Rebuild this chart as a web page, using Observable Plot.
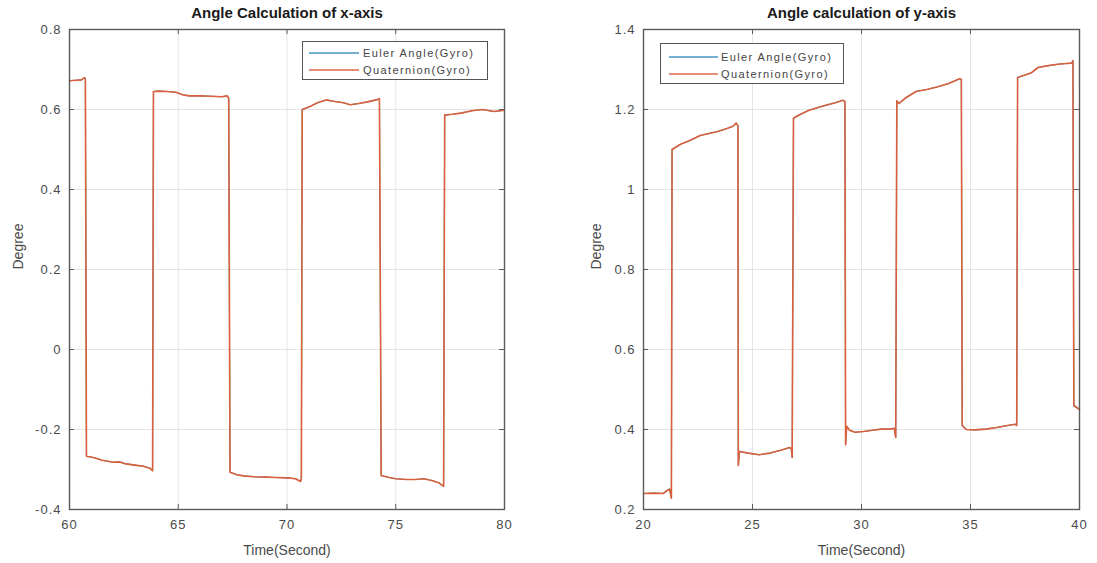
<!DOCTYPE html>
<html><head><meta charset="utf-8">
<script src="https://cdn.jsdelivr.net/npm/d3@7"></script>
<script src="https://cdn.jsdelivr.net/npm/@observablehq/plot@0.6"></script>
<style>
body{margin:0;background:#fff;}
#wrap{position:relative;width:1097px;height:563px;overflow:hidden;font-family:"Liberation Sans",Arial,sans-serif;}
.panel{position:absolute;top:0;}
.legend{position:absolute;border:1.3px solid #555;background:#fff;box-sizing:border-box;}
.legend .ln{position:absolute;height:2px;}
.legend .tx{position:absolute;font-size:11px;letter-spacing:1.4px;color:#444;white-space:nowrap;line-height:12px;}
g[aria-label="x-axis tick label"] text, g[aria-label="y-axis tick label"] text{letter-spacing:1px;}
g[aria-label="title"] text{letter-spacing:1.3px;}
g[aria-label="axis title"] text{letter-spacing:1.5px;}
</style>
</head><body>
<div id="wrap"></div>
<script>
// ---- Left chart: Angle Calculation of x-axis ----
const xAxisTime = [60.00,60.30,60.55,60.68,60.73,60.78,61.10,61.50,62.00,62.30,62.60,63.00,63.40,63.70,63.82,63.86,64.10,64.50,64.90,65.20,65.50,66.00,66.50,67.00,67.25,67.32,67.38,67.70,68.00,68.50,69.00,69.50,70.00,70.40,70.62,70.66,70.70,71.00,71.40,71.80,72.20,72.60,72.90,73.30,73.70,74.10,74.25,74.33,74.70,75.00,75.50,75.90,76.30,76.70,77.00,77.20,77.25,77.60,78.00,78.50,79.00,79.50,80.00];
const xAxisEuler = [0.672,0.673,0.674,0.680,0.676,-0.267,-0.270,-0.277,-0.282,-0.281,-0.286,-0.289,-0.292,-0.297,-0.303,0.645,0.646,0.645,0.643,0.637,0.634,0.634,0.633,0.632,0.634,0.628,-0.307,-0.313,-0.316,-0.318,-0.319,-0.320,-0.321,-0.323,-0.330,-0.322,0.600,0.606,0.617,0.624,0.620,0.617,0.612,0.615,0.619,0.624,0.627,-0.315,-0.320,-0.323,-0.325,-0.325,-0.323,-0.328,-0.334,-0.342,0.586,0.588,0.591,0.597,0.600,0.595,0.598];
const xAxisQuat  = [0.672,0.673,0.674,0.680,0.676,-0.267,-0.270,-0.277,-0.282,-0.281,-0.286,-0.289,-0.292,-0.297,-0.303,0.645,0.646,0.645,0.643,0.637,0.634,0.634,0.633,0.632,0.634,0.628,-0.307,-0.313,-0.316,-0.318,-0.319,-0.320,-0.321,-0.323,-0.330,-0.322,0.600,0.606,0.617,0.624,0.620,0.617,0.612,0.615,0.619,0.624,0.627,-0.315,-0.320,-0.323,-0.325,-0.325,-0.323,-0.328,-0.334,-0.342,0.586,0.588,0.591,0.597,0.600,0.595,0.598];
const xAxisXTicks = [60,65,70,75,80];
const xAxisYTicks = [-0.4,-0.2,0,0.2,0.4,0.6,0.8];

// ---- Right chart: Angle calculation of y-axis ----
const yAxisTime = [20.00,20.50,20.90,21.10,21.20,21.28,21.31,21.70,22.10,22.60,23.00,23.40,23.80,24.10,24.25,24.33,24.35,24.40,24.80,25.30,25.80,26.30,26.70,26.78,26.82,26.88,27.20,27.60,28.00,28.40,28.80,29.15,29.24,29.27,29.32,29.45,29.70,30.10,30.50,30.90,31.30,31.50,31.57,31.62,31.72,32.00,32.50,33.00,33.50,34.00,34.50,34.58,34.62,34.80,35.20,35.70,36.20,36.70,37.05,37.12,37.16,37.50,37.80,38.10,38.50,39.00,39.40,39.65,39.70,39.74,40.00];
const yAxisEuler = [0.240,0.241,0.240,0.248,0.251,0.228,1.100,1.113,1.122,1.135,1.140,1.145,1.152,1.158,1.166,1.160,0.310,0.345,0.341,0.337,0.341,0.348,0.355,0.352,0.330,1.178,1.188,1.198,1.205,1.211,1.217,1.223,1.220,0.362,0.408,0.398,0.393,0.395,0.398,0.401,0.401,0.403,0.380,1.222,1.215,1.228,1.245,1.250,1.257,1.265,1.277,1.275,0.410,0.400,0.399,0.401,0.405,0.410,0.413,0.410,1.280,1.286,1.292,1.305,1.309,1.313,1.315,1.316,1.322,0.460,0.450];
const yAxisQuat  = [0.240,0.241,0.240,0.248,0.251,0.228,1.100,1.113,1.122,1.135,1.140,1.145,1.152,1.158,1.166,1.160,0.310,0.345,0.341,0.337,0.341,0.348,0.355,0.352,0.330,1.178,1.188,1.198,1.205,1.211,1.217,1.223,1.220,0.362,0.408,0.398,0.393,0.395,0.398,0.401,0.401,0.403,0.380,1.222,1.215,1.228,1.245,1.250,1.257,1.265,1.277,1.275,0.410,0.400,0.399,0.401,0.405,0.410,0.413,0.410,1.280,1.286,1.292,1.305,1.309,1.313,1.315,1.316,1.322,0.460,0.450];
const yAxisXTicks = [20,25,30,35,40];
const yAxisYTicks = [0.2,0.4,0.6,0.8,1,1.2,1.4];

const seriesNames = ["Euler Angle(Gyro)", "Quaternion(Gyro)"];
const seriesColors = ["#3b8fc2", "#d9603b"];
const xLabel = "Time(Second)";
const yLabel = "Degree";

function panel(cfg) {
  const eul = cfg.time.map((t, i) => ({t, v: cfg.euler[i]}));
  const qua = cfg.time.map((t, i) => ({t, v: cfg.quat[i]}));
  const innerW = cfg.width - cfg.ml - cfg.mr;
  const innerH = cfg.height - cfg.mt - cfg.mb;
  const fmt = d => String(d);
  return Plot.plot({
    width: cfg.width, height: cfg.height,
    marginLeft: cfg.ml, marginRight: cfg.mr, marginTop: cfg.mt, marginBottom: cfg.mb,
    style: {fontFamily: '"Liberation Sans", Arial, sans-serif', fontSize: "13px", background: "#fff", overflow: "visible"},
    x: {domain: cfg.xDomain},
    y: {domain: cfg.yDomain},
    marks: [
      Plot.gridX(cfg.xTicks, {stroke: "#e4e4e4", strokeOpacity: 1}),
      Plot.gridY(cfg.yTicks, {stroke: "#e4e4e4", strokeOpacity: 1}),
      Plot.ruleX(cfg.xTicks, {x: d => d, insetBottom: innerH - 5, stroke: "#5a5a5a"}),
      Plot.ruleX(cfg.xTicks, {x: d => d, insetTop: innerH - 5, stroke: "#5a5a5a"}),
      Plot.ruleY(cfg.yTicks, {y: d => d, insetRight: innerW - 5, stroke: "#5a5a5a"}),
      Plot.ruleY(cfg.yTicks, {y: d => d, insetLeft: innerW - 5, stroke: "#5a5a5a"}),
      Plot.line(eul, {x: "t", y: "v", stroke: seriesColors[0], strokeWidth: 1.1}),
      Plot.line(qua, {x: "t", y: "v", stroke: seriesColors[1], strokeWidth: 1.6}),
      Plot.frame({stroke: "#5a5a5a", strokeWidth: 1.4}),
      Plot.axisX({ticks: cfg.xTicks, tickSize: 0, tickPadding: 10, tickFormat: fmt, fill: "#4a4a4a", label: null}),
      Plot.axisY({ticks: cfg.yTicks, tickSize: 0, tickPadding: 8, tickFormat: fmt, fill: "#4a4a4a", label: null}),
      Plot.text([cfg.title], {text: d => d, frameAnchor: "top", dy: -16, lineAnchor: "middle", fontWeight: "bold", fontSize: 15, fill: "#1a1a1a", ariaLabel: "title"}),
      Plot.text([xLabel], {text: d => d, frameAnchor: "bottom", dy: 41, lineAnchor: "middle", fontSize: 14, fill: "#4a4a4a", ariaLabel: "axis title"}),
      Plot.text([yLabel], {text: d => d, frameAnchor: "left", dx: cfg.ylabelDx, rotate: -90, lineAnchor: "middle", fontSize: 14, fill: "#4a4a4a", ariaLabel: "axis title"})
    ]
  });
}

function legend(box) {
  const el = document.createElement("div");
  el.className = "legend";
  Object.assign(el.style, {left: box.x + "px", top: box.y + "px", width: box.w + "px", height: box.h + "px"});
  seriesNames.forEach((name, i) => {
    const ln = document.createElement("div");
    ln.className = "ln";
    Object.assign(ln.style, {left: box.lineX + "px", width: box.lineW + "px", top: (box.rows[i] - 1) + "px", background: seriesColors[i], opacity: 0.7});
    const tx = document.createElement("div");
    tx.className = "tx";
    tx.textContent = name;
    Object.assign(tx.style, {left: box.textX + "px", top: (box.rows[i] - 6) + "px"});
    el.appendChild(ln); el.appendChild(tx);
  });
  return el;
}

const wrap = document.getElementById("wrap");

const left = panel({
  title: "Angle Calculation of x-axis",
  time: xAxisTime, euler: xAxisEuler, quat: xAxisQuat,
  xTicks: xAxisXTicks, yTicks: xAxisYTicks, xDomain: [60, 80], yDomain: [-0.4, 0.8],
  width: 548, height: 563, ml: 69, mr: 44, mt: 29, mb: 54, ylabelDx: -51
});
left.classList.add("panel"); left.style.left = "0px";
wrap.appendChild(left);

const right = panel({
  title: "Angle calculation of y-axis",
  time: yAxisTime, euler: yAxisEuler, quat: yAxisQuat,
  xTicks: yAxisXTicks, yTicks: yAxisYTicks, xDomain: [20, 40], yDomain: [0.2, 1.4],
  width: 549, height: 563, ml: 95, mr: 18, mt: 29, mb: 54, ylabelDx: -47
});
right.classList.add("panel"); right.style.left = "548px";
wrap.appendChild(right);

wrap.appendChild(legend({x: 302, y: 41, w: 186, h: 39, lineX: 6, lineW: 50, textX: 60, rows: [11, 28]}));
wrap.appendChild(legend({x: 660, y: 43, w: 184, h: 41, lineX: 8, lineW: 49, textX: 60, rows: [13, 30]}));
</script>
</body></html>
